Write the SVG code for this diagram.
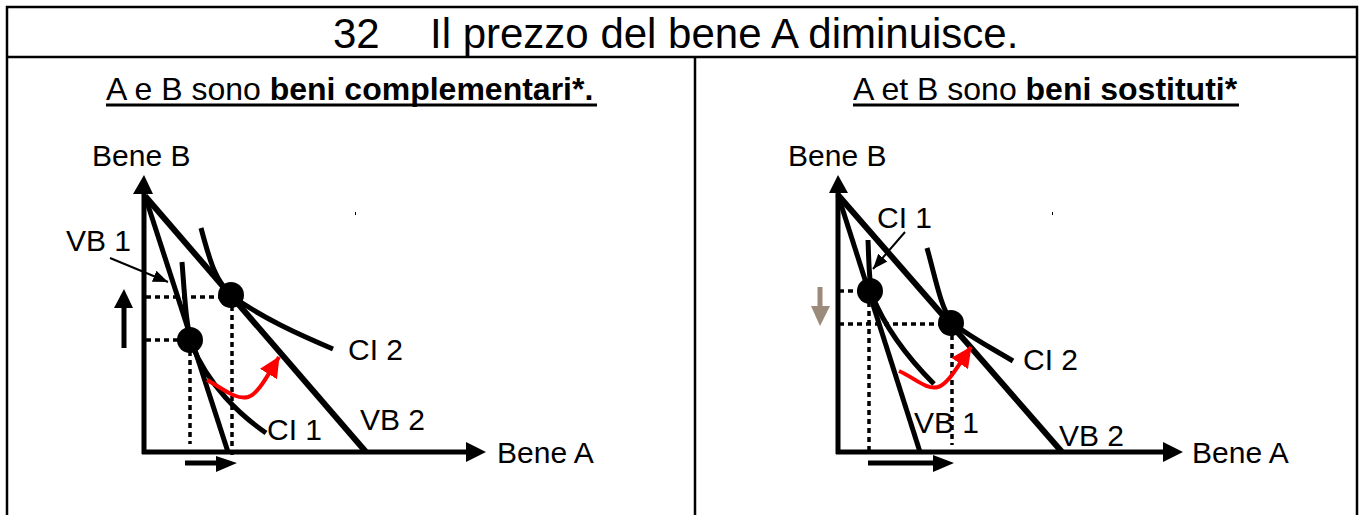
<svg xmlns="http://www.w3.org/2000/svg" width="1365" height="515" viewBox="0 0 1365 515">
<defs>
<style>
text{font-family:"Liberation Sans",Arial,sans-serif;fill:#000}
.lbl{font-size:30px}
.sub{font-size:32px}
.ax{stroke:#000;stroke-width:5;fill:none}
.vb{stroke:#000;stroke-width:5;fill:none}
.vb2{stroke:#000;stroke-width:6;fill:none}
.ci{stroke:#000;stroke-width:5;fill:none}
.dot{stroke:#000;stroke-width:3.5;stroke-dasharray:5 4;fill:none}
.ptr{stroke:#000;stroke-width:2;fill:none}
.red{stroke:#ff0000;stroke-width:4;fill:none}
.frame{stroke:#000;stroke-width:2.5;fill:none}
</style>
<marker id="ahs" markerUnits="userSpaceOnUse" markerWidth="16" markerHeight="12" refX="15" refY="6" orient="auto"><path d="M0,0 L15,6 L0,12 Z" fill="#000"/></marker>
<marker id="ahr" markerUnits="userSpaceOnUse" markerWidth="22" markerHeight="20" refX="20" refY="10" orient="auto"><path d="M0,0 L21,10 L0,20 Z" fill="#ff0000"/></marker>
</defs>

<g id="frame">
<path class="frame" d="M7,515 V7 H1357 V515"/>
<line class="frame" x1="7" y1="57" x2="1357" y2="57"/>
<line class="frame" x1="695" y1="57" x2="695" y2="515"/>
</g>

<g id="title">
<text x="333" y="48" font-size="42">32</text>
<text x="430" y="48" font-size="42">Il prezzo del bene A diminuisce.</text>
</g>

<g id="subtitle-left">
<text class="sub" x="106" y="100">A e B sono <tspan font-weight="bold">beni complementari*.</tspan></text>
<line x1="106" y1="105" x2="597" y2="105" stroke="#000" stroke-width="3"/>
</g>
<g id="subtitle-right">
<text class="sub" x="853" y="100">A et B sono <tspan font-weight="bold">beni sostituti*</tspan></text>
<line x1="853" y1="105" x2="1239" y2="105" stroke="#000" stroke-width="3"/>
</g>

<!-- Left chart -->
<g id="left-axes">
<line class="ax" x1="144" y1="454" x2="144" y2="192"/>
<path d="M133,194 L144,175 L153,194 Z" fill="#000"/>
<line class="ax" x1="142" y1="452" x2="468" y2="452"/>
<path d="M466,442 L486,452 L466,462 Z" fill="#000"/>
<text class="lbl" x="92" y="166">Bene B</text>
<text class="lbl" x="497" y="463">Bene A</text>
</g>

<g id="connectors">
<!-- left -->
<line class="vb2" x1="145" y1="196" x2="366" y2="452"/>
<line class="vb" x1="145" y1="196" x2="228" y2="452"/>
<path class="ci" d="M182,262 C185,300 186,325 192,345 C208,385 240,415 266,433"/>
<path class="ci" d="M201,228 C210,262 216,282 232,296 C262,318 300,335 333,349"/>
<line class="dot" x1="146" y1="297" x2="230" y2="297"/>
<line class="dot" x1="232" y1="297" x2="232" y2="456"/>
<line class="dot" x1="146" y1="340" x2="188" y2="340"/>
<line class="dot" x1="190" y1="342" x2="190" y2="444"/>
<line class="ptr" x1="110" y1="258" x2="168" y2="282" marker-end="url(#ahs)"/>
<line x1="124" y1="348" x2="124" y2="300" stroke="#000" stroke-width="5"/>
<path d="M114,308 L124,289 L133,308 Z" fill="#000"/>
<line x1="185" y1="463" x2="220" y2="463" stroke="#000" stroke-width="5"/>
<path d="M216,456 L237,463 L216,472 Z" fill="#000"/>
<path class="red" d="M207,380 C225,390 236,400 248,397 C258,394 266,378 279,357" marker-end="url(#ahr)"/>

<!-- right -->
<line class="vb2" x1="838" y1="195" x2="1062" y2="452"/>
<line class="vb" x1="838" y1="195" x2="920" y2="452"/>
<path class="ci" d="M868,240 C869,265 869,280 872,295 C886,330 910,360 934,384"/>
<path class="ci" d="M927,248 C936,280 940,305 952,323 C975,340 995,350 1013,361"/>
<line class="dot" x1="839" y1="291" x2="866" y2="291"/>
<line class="dot" x1="839" y1="324" x2="948" y2="324"/>
<line class="dot" x1="869" y1="293" x2="869" y2="452"/>
<line class="dot" x1="952" y1="326" x2="952" y2="445"/>
<line class="ptr" x1="905" y1="232" x2="873" y2="269" marker-end="url(#ahs)"/>
<line x1="820" y1="287" x2="820" y2="310" stroke="#9c8b7a" stroke-width="5"/>
<path d="M811,306 L820,326 L830,306 Z" fill="#9c8b7a"/>
<line x1="868" y1="463" x2="936" y2="463" stroke="#000" stroke-width="5"/>
<path d="M933,455 L954,463 L933,472 Z" fill="#000"/>
<path class="red" d="M899,371 C915,378 926,390 938,387 C948,384 958,366 971,347" marker-end="url(#ahr)"/>
</g>

<g id="left-dots">
<circle cx="190" cy="340" r="13"/>
<circle cx="231" cy="295" r="13"/>
</g>
<g id="left-labels">
<text class="lbl" x="66" y="251">VB 1</text>
<text class="lbl" x="348" y="360">CI 2</text>
<text class="lbl" x="267" y="440">CI 1</text>
<text class="lbl" x="360" y="430">VB 2</text>
<rect x="355" y="212" width="1" height="3" fill="#000"/>
</g>

<!-- Right chart -->
<g id="right-axes">
<line class="ax" x1="838" y1="454" x2="838" y2="192"/>
<path d="M829,193 L838,175 L848,193 Z" fill="#000"/>
<line class="ax" x1="836" y1="452" x2="1165" y2="452"/>
<path d="M1163,442 L1183,452 L1163,462 Z" fill="#000"/>
<text class="lbl" x="788" y="166">Bene B</text>
<text class="lbl" x="1192" y="463">Bene A</text>
</g>
<g id="right-dots">
<circle cx="870" cy="291" r="13"/>
<circle cx="951" cy="323" r="13"/>
</g>
<g id="right-labels">
<text class="lbl" x="877" y="228">CI 1</text>
<text class="lbl" x="1023" y="370">CI 2</text>
<text class="lbl" x="914" y="433">VB 1</text>
<text class="lbl" x="1059" y="446">VB 2</text>
<rect x="1052" y="212" width="1" height="3" fill="#000"/>
</g>
</svg>
